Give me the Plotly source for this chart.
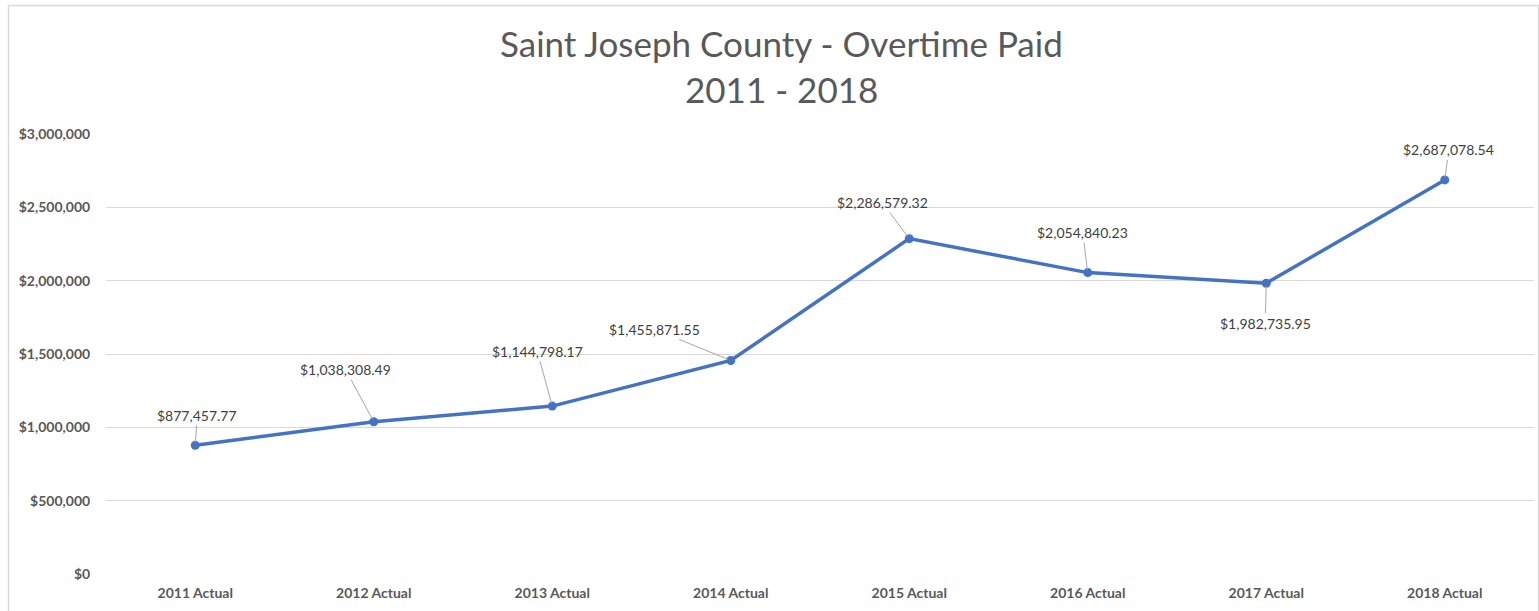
import plotly.graph_objects as go

categories = ["2011 Actual", "2012 Actual", "2013 Actual", "2014 Actual",
              "2015 Actual", "2016 Actual", "2017 Actual", "2018 Actual"]
overtime = [877457.77, 1038308.49, 1144798.17, 1455871.55,
            2286579.32, 2054840.23, 1982735.95, 2687078.54]
label_offsets = [(2, -30), (-28, -52), (-15, -55), (-76, -31),
                 (-27, -36), (-5, -40), (-1, 40), (4, -30)]
y_ticks = [0, 500000, 1000000, 1500000, 2000000, 2500000, 3000000]
y_ticktext = ["$0", "$500,000", "$1,000,000", "$1,500,000",
              "$2,000,000", "$2,500,000", "$3,000,000"]
title_lines = ["Saint Joseph County - Overtime Paid", "2011 - 2018"]

W, H = 1539, 611
ML, MR, MT, MB = 106, 5, 134, 37
PW, PH = W - ML - MR, H - MT - MB

fig = go.Figure()
fig.add_trace(go.Scatter(
    x=categories, y=overtime, mode="lines+markers",
    line=dict(color="#4472C4", width=3.5),
    marker=dict(color="#4472C4", size=9),
    hoverinfo="skip", showlegend=False,
))

annotations = []
for cat, val, (dx, dy) in zip(categories, overtime, label_offsets):
    annotations.append(dict(
        x=cat, y=val, xref="x", yref="y",
        text="${:,.2f}".format(val),
        showarrow=True, arrowhead=0, arrowwidth=1, arrowcolor="#a6a6a6",
        ax=dx, ay=dy, standoff=3, startstandoff=0,
        font=dict(family="Lato", size=14, color="#404040"),
    ))

def px_x(p):
    return (p - ML) / PW

def px_y(p):
    return (H - MB - p) / PH

annotations.append(dict(x=px_x(781), y=px_y(43), xref="paper", yref="paper",
                        text=title_lines[0], showarrow=False, xanchor="center", yanchor="middle",
                        font=dict(family="Lato", size=35, color="#595959")))
annotations.append(dict(x=px_x(781), y=px_y(89), xref="paper", yref="paper",
                        text=title_lines[1], showarrow=False, xanchor="center", yanchor="middle",
                        font=dict(family="Lato", size=35, color="#595959")))

fig.update_layout(
    width=W, height=H,
    margin=dict(l=ML, r=MR, t=MT, b=MB, pad=0),
    paper_bgcolor="white", plot_bgcolor="white",
    annotations=annotations,
    shapes=[dict(type="rect", xref="paper", yref="paper",
                 x0=px_x(8.5), x1=px_x(1538.5), y0=px_y(640), y1=px_y(5.5),
                 line=dict(color="#d9d9d9", width=1.5), fillcolor="rgba(0,0,0,0)", layer="below")],
    xaxis=dict(type="category", range=[-0.5, 7.5], showgrid=False, showline=False,
               zeroline=False, ticks="outside", ticklen=6, tickcolor="rgba(0,0,0,0)",
               tickfont=dict(family="Lato", size=14, color="#595959", weight="bold")),
    yaxis=dict(range=[0, 3000000], tickvals=y_ticks, ticktext=y_ticktext,
               showgrid=True, gridcolor="#d9d9d9", gridwidth=1, zeroline=False,
               showline=False, ticks="outside", ticklen=12, tickcolor="rgba(0,0,0,0)",
               tickfont=dict(family="Lato", size=14, color="#595959", weight="bold")),
)

fig.write_html("out.html", config={"displayModeBar": False},
               post_script="document.body.style.margin='0';")
